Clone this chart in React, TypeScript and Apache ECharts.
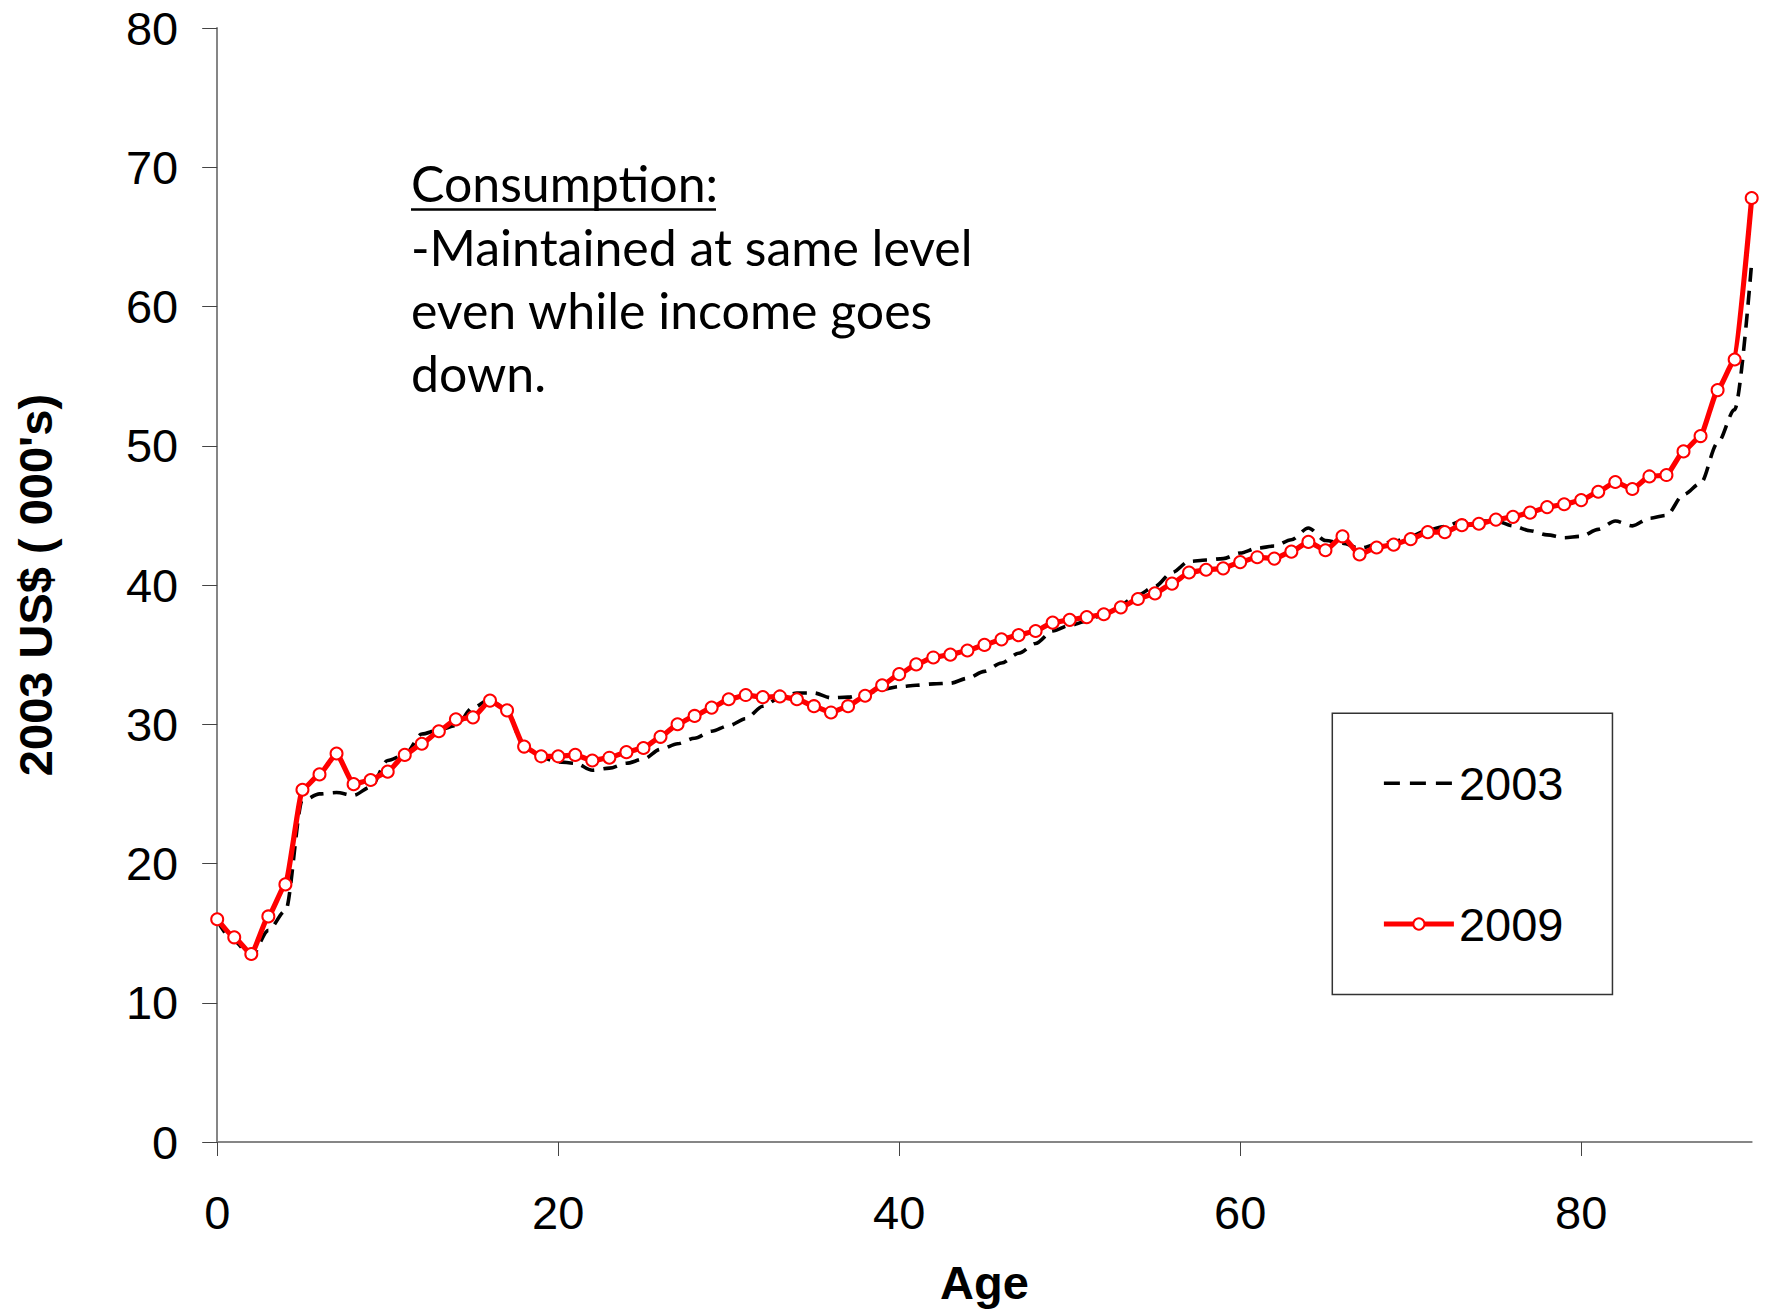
import React, { useEffect, useRef } from "react";
import * as echarts from "echarts";

const ages: number[] = Array.from({ length: 91 }, (_, i) => i);

const values2003: number[] = [
  15.9, 14.4, 13.3, 15.2, 16.6, 24.5, 25.0, 25.1, 24.9, 25.5,
  27.4, 27.8, 29.3, 29.6, 29.9, 31.2, 31.8, 31.0, 28.3, 27.6,
  27.3, 27.2, 26.7, 26.85, 27.2, 27.5, 28.2, 28.6, 29.0, 29.5,
  29.9, 30.4, 31.3, 31.9, 32.25, 32.25, 31.9, 31.95, 32.2, 32.5,
  32.7, 32.8, 32.9, 32.95, 33.3, 33.8, 34.4, 35.1, 35.8, 36.7,
  37.1, 37.4, 37.9, 38.6, 39.3, 39.9, 40.9, 41.7, 41.8, 41.9,
  42.3, 42.65, 42.8, 43.25, 44.1, 43.2, 43.0, 42.65, 42.9, 43.1,
  43.5, 43.95, 44.2, 44.6, 44.6, 44.6, 44.25, 43.9, 43.6, 43.4,
  43.5, 44.0, 44.6, 44.25, 44.8, 45.0, 46.5, 47.3, 50.2, 52.6,
  63.2,
];

const values2009: number[] = [
  16.0, 14.7, 13.5, 16.2, 18.5, 25.3, 26.4, 27.9, 25.7, 26.0,
  26.6, 27.8, 28.6, 29.5, 30.35, 30.5, 31.7, 31.0, 28.4, 27.7,
  27.7, 27.8, 27.4, 27.6, 28.0, 28.3, 29.1, 30.0, 30.6, 31.2,
  31.8, 32.1, 31.95, 32.0, 31.8, 31.3, 30.85, 31.3, 32.05, 32.8,
  33.6, 34.3, 34.8, 35.0, 35.3, 35.7, 36.1, 36.4, 36.7, 37.3,
  37.5, 37.7, 37.9, 38.4, 39.0, 39.4, 40.1, 40.9, 41.1, 41.2,
  41.65, 42.0, 41.9, 42.4, 43.1, 42.5, 43.5, 42.2, 42.7, 42.9,
  43.3, 43.8, 43.8, 44.3, 44.4, 44.7, 44.9, 45.2, 45.6, 45.8,
  46.1, 46.7, 47.4, 46.9, 47.8, 47.9, 49.6, 50.7, 54.0, 56.2,
  67.8,
];

const xTicks: number[] = [0, 20, 40, 60, 80];
const seriesNames: string[] = ["2003", "2009"];
const noteLines: string[] = [
  "Consumption:",
  "-Maintained at same level",
  "even while income goes",
  "down.",
];

export default function App() {
  const ref = useRef<HTMLDivElement>(null);

  useEffect(() => {
    if (!ref.current) return;
    const chart = echarts.init(ref.current, undefined, { renderer: "svg" });
    const axisFont = "'Liberation Sans', Arial, sans-serif";
    const noteFont = "Lato, 'Open Sans', sans-serif";
    const noteSize = 50;
    const baselines = [202.6, 266.8, 329.8, 392.8];
    const dashStyle = { color: "#000", width: 3.6, type: [14, 9] as number[] };
    const redStyle = { color: "#ff0000", width: 5.2 };

    const option: any = {
      animation: false,
      backgroundColor: "#ffffff",
      grid: { left: 217.2, right: 13.3, top: 28.1, bottom: 168.5, containLabel: false },
      xAxis: {
        type: "value",
        min: 0,
        max: 90,
        interval: 20,
        name: "Age",
        nameLocation: "middle",
        nameGap: 117,
        nameTextStyle: { fontFamily: axisFont, fontSize: 47, fontWeight: "bold", color: "#000" },
        axisLine: { show: true, onZero: false, lineStyle: { color: "#868686", width: 2 } },
        axisTick: { show: true, inside: false, length: 14, customValues: xTicks, lineStyle: { color: "#444", width: 1 } },
        axisLabel: { fontFamily: axisFont, fontSize: 47, color: "#000", margin: 47, customValues: xTicks },
        splitLine: { show: false },
      },
      yAxis: {
        type: "value",
        min: 0,
        max: 80,
        interval: 10,
        name: "2003 US$ ( 000's)",
        nameLocation: "middle",
        nameRotate: 90,
        nameGap: 158,
        nameTextStyle: { fontFamily: axisFont, fontSize: 47, fontWeight: "bold", color: "#000" },
        axisLine: { show: true, lineStyle: { color: "#868686", width: 2 } },
        axisTick: { show: true, inside: false, length: 15, lineStyle: { color: "#444", width: 1 } },
        axisLabel: { fontFamily: axisFont, fontSize: 47, color: "#000", margin: 39 },
        splitLine: { show: false },
      },
      legend: {
        orient: "vertical",
        left: 1332.3,
        top: 713.3,
        padding: [46.5, 49, 47, 49],
        borderColor: "#333",
        borderWidth: 1.5,
        itemWidth: 70,
        itemHeight: 14,
        itemGap: 93.7,
        data: [
          { name: seriesNames[0], itemStyle: { opacity: 0 }, lineStyle: { ...dashStyle, type: [16, 10] } },
          { name: seriesNames[1], itemStyle: { color: "#ffffff", borderColor: "#ff0000", borderWidth: 2 }, lineStyle: redStyle },
        ],
        textStyle: { fontFamily: axisFont, fontSize: 47, color: "#000" },
      },
      series: [
        {
          name: seriesNames[0],
          type: "line",
          data: ages.map((a, i) => [a, values2003[i]]),
          symbol: "none",
          smooth: 0.3,
          smoothMonotone: "x",
          lineStyle: dashStyle,
          itemStyle: { color: "#000" },
          z: 2,
        },
        {
          name: seriesNames[1],
          type: "line",
          data: ages.map((a, i) => [a, values2009[i]]),
          symbol: "circle",
          symbolSize: 12,
          showSymbol: true,
          smooth: 0.15,
          smoothMonotone: "x",
          lineStyle: redStyle,
          itemStyle: { color: "#ffffff", borderColor: "#ff0000", borderWidth: 2 },
          z: 3,
        },
      ],
      graphic: [
        ...noteLines.map((t, i) => ({
          type: "text",
          left: 411,
          top: baselines[i] - noteSize * 0.387 - noteSize / 2,
          style: {
            text: t,
            fontFamily: noteFont,
            fontSize: noteSize,
            fill: "#000",
          },
        })),
        {
          type: "line",
          shape: { x1: 411, y1: 209.5, x2: 716, y2: 209.5 },
          style: { stroke: "#000", lineWidth: 2.5 },
        },
      ],
    };
    chart.setOption(option);
    return () => chart.dispose();
  }, []);

  return (
    <div
      ref={ref}
      style={{ position: "fixed", left: 0, top: 0, width: 1765, height: 1311, background: "#fff" }}
    />
  );
}
